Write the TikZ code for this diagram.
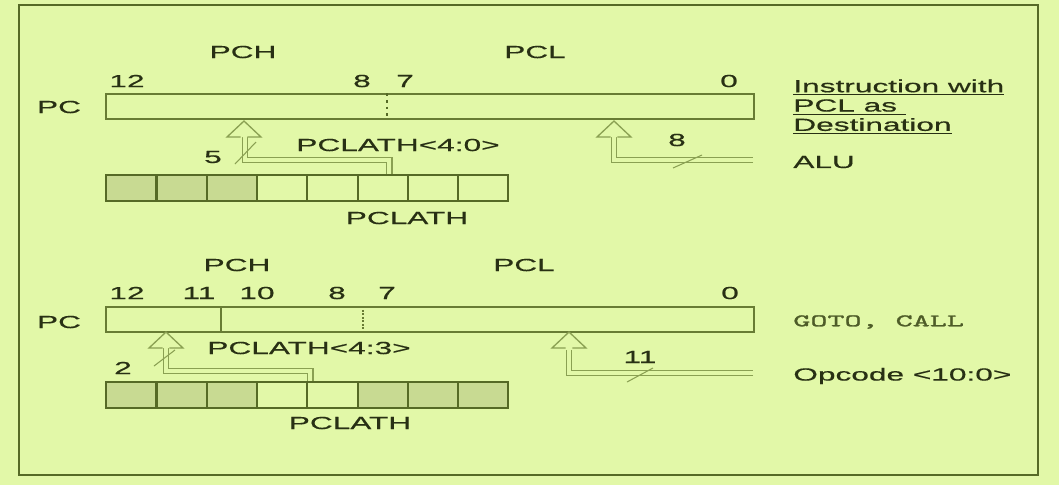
\documentclass[tikz,border=0pt]{standalone}
\usepackage{fontspec}
\setmainfont[FakeStretch=1.8, FakeBold=0.5]{Liberation Sans}
\newfontfamily\codefont[FakeStretch=1.85, FakeBold=1.5]{Latin Modern Mono}
\usepackage{xcolor}
\usepackage{tikz}
\usetikzlibrary{positioning}
\definecolor{fond}{RGB}{226,248,168}
\definecolor{cadre}{RGB}{86,106,38}
\definecolor{trait}{RGB}{104,124,52}
\definecolor{tuyau}{RGB}{138,160,82}
\definecolor{grise}{RGB}{200,218,146}
\definecolor{texte}{RGB}{40,48,20}
\definecolor{code}{RGB}{78,92,40}
\newcommand{\flechecreuse}[2] % {x}{y} pointe de la fleche creuse
{
	\draw [tuyau, line width=0.75pt, fill=fond] (#1-3.3,#2+16) -- (#1-17,#2+16) -- (#1,#2) -- (#1+17,#2+16) -- (#1+3.3,#2+16);
}
\tikzset{
	etiq/.style={text=texte, inner sep=0pt, font=\fontsize{10}{11}\selectfont},
	registre/.style={draw=trait, line width=0.85pt, fill=fond, minimum width=12.96cm, minimum height=0.5cm, inner sep=0pt},
	cellule/.style={draw=cadre, line width=1.1pt, minimum width=1cm, minimum height=0.52cm, inner sep=0pt},
	pipe/.style={tuyau, line width=0.75pt, double=fond, double distance=2.3pt},
	barre/.style={tuyau, line width=0.6pt}
}

\begin{document}
\begin{tikzpicture}[x=0.02cm, y=-0.02cm]
	\useasboundingbox (0,0) rectangle (1059,485);
	\fill[fond] (0,0) rectangle (1059,485);
	\draw[cadre, line width=1.2pt] (19,5) rectangle (1038,475);

	%% PCL comme destination
	\node[registre] (pcA) at (430,106.5) {};
	\draw[cadre, line width=1.3pt, dash pattern=on 1.6pt off 2.2pt] (pcA.north -| 387,0) -- (pcA.south -| 387,0);

	\node[etiq] (pchA) at (243,52) {PCH};
	\node[etiq] (pclA) at (535,52) {PCL};
	\node[etiq] (b12A) at (127,81) {12};
	\node[etiq] (b8A) at (362,81) {8};
	\node[etiq] (b7A) at (405,81) {7};
	\node[etiq] (b0A) at (729,81) {0};
	\node[etiq] (pcnA) at (59,107) {PC};

	\foreach \i/\c in {1/grise,2/grise,3/grise,4/fond,5/fond,6/fond,7/fond,8/fond} {
		\node[cellule, fill=\c] (h\i) at (81+50.3*\i,188) {};
	}
	\node[etiq] (pclathA) at (407,218) {PCLATH};
	\node[etiq] (latA) at (398,145) {PCLATH<4:0>};

	\coordinate (coudeA) at (245,160);
	\draw[pipe] ([xshift=0.13cm]h6.north) |- (coudeA) -- ++(0,-23);
	\flechecreuse{244}{121}
	\draw[barre] (235,164) -- (256,142);
	\node[etiq] (n5) at (213,157) {5};

	\node[etiq, anchor=west, align=left] (instr) at (793,107) {\underline{Instruction with}\\\underline{PCL as\ }\\\underline{Destination}};
	\node[etiq, anchor=west] (alu) at (793,162) {ALU};
	\coordinate (coudeB) at (614,160);
	\draw[pipe] ([xshift=-0.8cm]alu.west |- coudeB) -- (coudeB) -- ++(0,-23);
	\flechecreuse{614}{121}
	\draw[barre] (673,168) -- (702,155);
	\node[etiq] (n8) at (677,140) {8};

	%% GOTO, CALL
	\node[registre] (pcB) at (430,319.5) {};
	\draw[trait, line width=0.85pt] (pcB.north -| 221,0) -- (pcB.south -| 221,0);
	\draw[trait, line width=0.6pt, dash pattern=on 1pt off 1pt] (pcB.north -| 363,0) -- (pcB.south -| 363,0);

	\node[etiq] (pchB) at (237,265) {PCH};
	\node[etiq] (pclB) at (524,265) {PCL};
	\node[etiq] (b12B) at (127,293) {12};
	\node[etiq] (b11B) at (199,293) {11};
	\node[etiq] (b10B) at (257,293) {10};
	\node[etiq] (b8B) at (337,293) {8};
	\node[etiq] (b7B) at (387,293) {7};
	\node[etiq] (b0B) at (730,293) {0};
	\node[etiq] (pcnB) at (59,322) {PC};

	\foreach \i/\c in {1/grise,2/grise,3/grise,4/fond,5/fond,6/grise,7/grise,8/grise} {
		\node[cellule, fill=\c] (l\i) at (81+50.3*\i,395) {};
	}
	\node[etiq] (pclathB) at (350,423) {PCLATH};
	\node[etiq] (latB) at (309,348) {PCLATH<4:3>};

	\coordinate (coudeC) at (166,371);
	\draw[pipe] ([xshift=0.04cm]l4.north east) |- (coudeC) -- ++(0,-23);
	\flechecreuse{166}{332}
	\draw[barre] (154,366) -- (175,350);
	\node[etiq] (n2) at (123,368) {2};

	\node[etiq, anchor=west, text=code] (goto) at (793,322) {\codefont\fontsize{10}{11}\selectfont GOTO, CALL};
	\node[etiq, anchor=west] (opcode) at (793,376) {Opcode <10:0>};
	\coordinate (coudeD) at (569,373);
	\draw[pipe] ([xshift=-0.8cm]opcode.west |- coudeD) -- (coudeD) -- ++(0,-23);
	\flechecreuse{569}{332}
	\draw[barre] (627,382) -- (653,368);
	\node[etiq] (n11) at (640,357) {11};
\end{tikzpicture}
\end{document}
